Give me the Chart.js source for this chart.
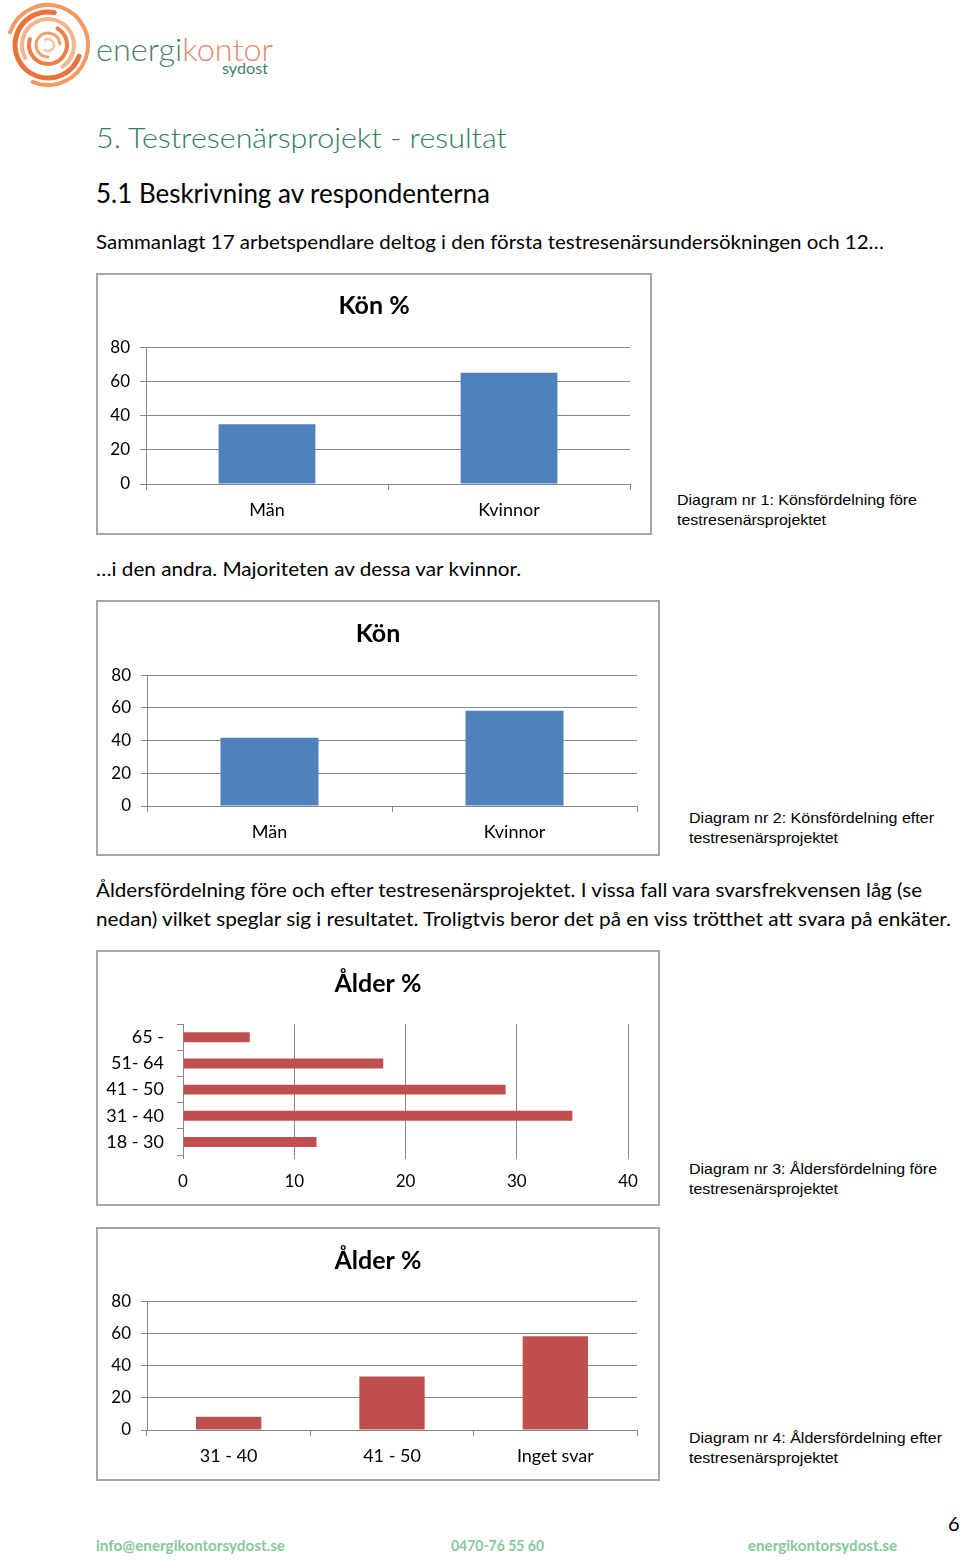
<!DOCTYPE html>
<html lang="sv">
<head>
<meta charset="utf-8">
<title>Testresenärsprojekt - resultat</title>
<script src="https://cdn.jsdelivr.net/npm/chart.js@4.4.1/dist/chart.umd.min.js"></script>
<style>
  html, body { margin: 0; padding: 0; background: #fff; }
  body { width: 960px; height: 1560px; position: relative; overflow: hidden; font-family: Lato, "Open Sans", sans-serif; color: #000; }
  .t { position: absolute; white-space: nowrap; line-height: 1; transform-origin: 0 50%; }
  .box { position: absolute; border: 2px solid #A6A6A6; box-sizing: border-box; background: #fff; }
  .box canvas { position: absolute; left: 0; top: 0; }
  .cap { font-family: "Liberation Sans", Arial, sans-serif; font-size: 15px; color: #000; }
  .foot { font-family: Lato, sans-serif; font-weight: 700; font-size: 15px; color: #86C79C; }
</style>
</head>
<body>

<!-- logo -->
<svg style="position:absolute;left:2px;top:2px" width="92" height="88" viewBox="0 0 92 88">
  <g fill="none" stroke-linecap="round">
    <circle cx="46" cy="43" r="40" stroke="#F29A62" stroke-width="4" stroke-dasharray="190 60" transform="rotate(200 46 43)"/>
    <circle cx="46" cy="43" r="33" stroke="#E9733A" stroke-width="5" stroke-dasharray="150 60" transform="rotate(20 46 43)"/>
    <circle cx="46" cy="43" r="26" stroke="#F6B48A" stroke-width="4" stroke-dasharray="120 50" transform="rotate(150 46 43)"/>
    <circle cx="46" cy="43" r="19" stroke="#EC7F45" stroke-width="4" stroke-dasharray="85 40" transform="rotate(300 46 43)"/>
    <circle cx="46" cy="43" r="12" stroke="#F4A06E" stroke-width="3" stroke-dasharray="55 25" transform="rotate(90 46 43)"/>
    <circle cx="46" cy="43" r="6" stroke="#F9C7A6" stroke-width="2.5" stroke-dasharray="25 15" transform="rotate(240 46 43)"/>
  </g>
</svg>
<div class="t" data-w="177" style="left:96px;top:34px;font-size:31px;font-weight:300;"><span style="color:#4D7F6E">energi</span><span style="color:#E3896F">kontor</span></div>
<div class="t" data-w="46" style="left:222px;top:61px;font-size:15px;font-weight:400;color:#3F7F6C;">sydost</div>

<!-- headings and text -->
<div class="t" data-w="411" style="left:96px;top:123px;font-size:28px;font-weight:300;color:#2F7D60;">5. Testresenärsprojekt - resultat</div>
<div class="t" data-w="394" style="left:96px;top:180px;font-size:26px;font-weight:400;">5.1 Beskrivning av respondenterna</div>
<div class="t" data-w="788" style="left:96px;top:231px;font-size:20px;">Sammanlagt 17 arbetspendlare deltog i den första testresenärsundersökningen och 12…</div>
<div class="t" data-w="425" style="left:96px;top:558px;font-size:20px;">…i den andra. Majoriteten av dessa var kvinnor.</div>
<div class="t" data-w="826" style="left:96px;top:879px;font-size:20px;">Åldersfördelning före och efter testresenärsprojektet. I vissa fall vara svarsfrekvensen låg (se</div>
<div class="t" data-w="855" style="left:96px;top:908px;font-size:20px;">nedan) vilket speglar sig i resultatet. Troligtvis beror det på en viss trötthet att svara på enkäter.</div>

<!-- chart boxes -->
<div class="box" style="left:96px;top:273px;width:556px;height:262px;"><canvas id="c1" width="552" height="258"></canvas></div>
<div class="t cap" data-w="240" style="left:677px;top:492px;">Diagram nr 1: Könsfördelning före</div>
<div class="t cap" data-w="149" style="left:677px;top:512px;">testresenärsprojektet</div>

<div class="box" style="left:96px;top:600px;width:564px;height:256px;"><canvas id="c2" width="560" height="252"></canvas></div>
<div class="t cap" data-w="245" style="left:689px;top:810px;">Diagram nr 2: Könsfördelning efter</div>
<div class="t cap" data-w="149" style="left:689px;top:830px;">testresenärsprojektet</div>

<div class="box" style="left:96px;top:950px;width:564px;height:256px;"><canvas id="c3" width="560" height="252"></canvas></div>
<div class="t cap" data-w="248" style="left:689px;top:1161px;">Diagram nr 3: Åldersfördelning före</div>
<div class="t cap" data-w="149" style="left:689px;top:1181px;">testresenärsprojektet</div>

<div class="box" style="left:96px;top:1227px;width:564px;height:254px;"><canvas id="c4" width="560" height="250"></canvas></div>
<div class="t cap" data-w="253" style="left:689px;top:1430px;">Diagram nr 4: Åldersfördelning efter</div>
<div class="t cap" data-w="149" style="left:689px;top:1450px;">testresenärsprojektet</div>

<!-- footer -->
<div class="t" style="left:948px;top:1513px;font-size:20px;">6</div>
<div class="t foot" data-w="189" style="left:96px;top:1538px;">info@energikontorsydost.se</div>
<div class="t foot" data-w="93" style="left:451px;top:1538px;">0470-76 55 60</div>
<div class="t foot" data-w="149" style="left:748px;top:1538px;">energikontorsydost.se</div>

<script>
// ---- data ----
const konForeTitle = 'Kön %';
const konForeCategories = ['Män', 'Kvinnor'];
const konForeValues = [35, 65];

const konEfterTitle = 'Kön';
const konEfterCategories = ['Män', 'Kvinnor'];
const konEfterValues = [41.7, 58.3];

const alderForeTitle = 'Ålder %';
const alderForeCategories = ['65 -', '51- 64', '41 - 50', '31 - 40', '18 - 30'];
const alderForeValues = [6, 18, 29, 35, 12];

const alderEfterTitle = 'Ålder %';
const alderEfterCategories = ['31 - 40', '41 - 50', 'Inget svar'];
const alderEfterValues = [8.3, 33.3, 58.3];

const verticalTicks = { min: 0, max: 80, step: 20 };
const horizontalTicks = { min: 0, max: 40, step: 10 };

// ---- styling ----
const BLUE = '#4F81BD';
const RED = '#C0504D';
const GRID = '#888888';
const tickFont = { family: 'Lato', size: 17 };

Chart.defaults.animation = false;
Chart.defaults.font.family = 'Lato';

function titleOpts(text, top, bottom) {
  return { display: true, text, color: '#000', font: { family: 'Lato', size: 25, weight: 'bold', lineHeight: 1.2 }, padding: { top, bottom } };
}

// an empty right-hand spacer axis that only reserves room, so the title stays centred in the box
function spacerAxis(width) {
  return {
    type: 'linear', position: 'right', display: true,
    grid: { display: false, drawTicks: false }, border: { display: false },
    ticks: { display: false },
    afterFit: s => { s.width = width; }
  };
}

function columnChart(id, title, cats, vals, color, o) {
  return new Chart(document.getElementById(id), {
    type: 'bar',
    data: { labels: cats, datasets: [{ data: vals, backgroundColor: color, borderWidth: 0, categoryPercentage: 1, barPercentage: 0.4, yAxisID: 'y' }] },
    options: {
      responsive: false,
      devicePixelRatio: 1,
      layout: { padding: { left: 0, right: 0, top: 0, bottom: 0 } },
      plugins: { legend: { display: false }, tooltip: { enabled: false }, title: titleOpts(title, o.tTop, o.tBottom) },
      scales: {
        x: {
          grid: { display: true, drawOnChartArea: false, drawTicks: true, tickLength: 6, color: GRID, offset: true },
          border: { display: true, color: GRID, width: 1 },
          ticks: { color: '#000', font: { ...tickFont, size: 18 }, padding: 9 },
          afterFit: s => { s.height = o.xH; }
        },
        y: {
          min: verticalTicks.min, max: verticalTicks.max,
          grid: { color: GRID, tickLength: 6, drawTicks: true },
          border: { display: true, color: GRID, width: 1 },
          ticks: { stepSize: verticalTicks.step, color: '#000', font: tickFont, padding: 10 },
          afterFit: s => { s.width = o.yW; }
        },
        spacer: spacerAxis(o.right)
      }
    }
  });
}

columnChart('c1', konForeTitle, konForeCategories, konForeValues, BLUE, { right: 20, tTop: 15.6, tBottom: 26.6, xH: 49, yW: 48 });
columnChart('c2', konEfterTitle, konEfterCategories, konEfterValues, BLUE, { right: 21, tTop: 16.6, tBottom: 26.6, xH: 48, yW: 49 });
columnChart('c4', alderEfterTitle, alderEfterCategories, alderEfterValues, RED, { right: 21, tTop: 16.6, tBottom: 25.6, xH: 49, yW: 49 });

new Chart(document.getElementById('c3'), {
  type: 'bar',
  data: { labels: alderForeCategories, datasets: [{ data: alderForeValues, backgroundColor: RED, borderWidth: 0, categoryPercentage: 1, barPercentage: 0.38, xAxisID: 'x', yAxisID: 'y' }] },
  options: {
    indexAxis: 'y',
    responsive: false,
    devicePixelRatio: 1,
    layout: { padding: { left: 0, right: 0, top: 0, bottom: 0 } },
    plugins: { legend: { display: false }, tooltip: { enabled: false }, title: titleOpts(alderForeTitle, 16.6, 25.6) },
    scales: {
      x: {
        min: horizontalTicks.min, max: horizontalTicks.max,
        grid: { color: GRID, tickLength: 4, drawTicks: true },
        border: { display: false },
        ticks: { stepSize: horizontalTicks.step, color: '#000', font: tickFont, padding: 12 },
        afterFit: s => { s.height = 49; }
      },
      y: {
        type: 'category',
        grid: { display: true, drawOnChartArea: false, drawTicks: true, tickLength: 6, color: GRID, offset: true },
        border: { display: true, color: GRID, width: 1 },
        ticks: { color: '#000', font: { ...tickFont, size: 18 }, padding: 13 },
        afterFit: s => { s.width = 85; }
      },
      spacer: spacerAxis(30)
    }
  }
});

// fit text widths to the reference layout
function fitTexts() {
  document.querySelectorAll('[data-w]').forEach(el => {
    el.style.transform = 'none';
    const w = el.getBoundingClientRect().width;
    const target = parseFloat(el.dataset.w);
    if (w > 0) el.style.transform = 'scaleX(' + (target / w).toFixed(4) + ')';
  });
}
fitTexts();
if (document.fonts && document.fonts.ready) document.fonts.ready.then(fitTexts);
</script>
</body>
</html>
